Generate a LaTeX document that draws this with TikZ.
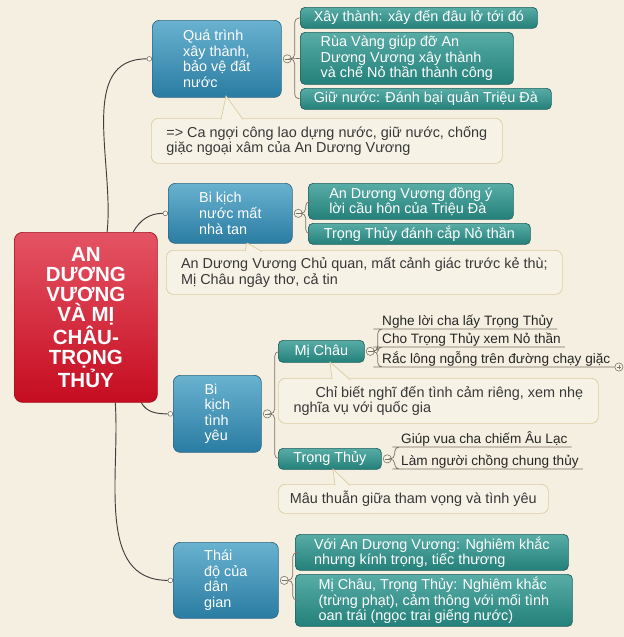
\documentclass[tikz,border=0pt]{standalone}
\usepackage{fontspec}
\setmainfont{Liberation Sans}
\usetikzlibrary{positioning}

\definecolor{paper}{RGB}{244,239,224}
\definecolor{bluetop}{RGB}{105,178,208}
\definecolor{bluebot}{RGB}{42,124,162}
\definecolor{blueline}{RGB}{48,104,132}
\definecolor{tealtop}{RGB}{88,172,166}
\definecolor{tealbot}{RGB}{36,128,122}
\definecolor{tealline}{RGB}{32,96,94}
\definecolor{roottop}{RGB}{228,84,100}
\definecolor{rootbot}{RGB}{198,12,32}
\definecolor{rootline}{RGB}{160,20,32}
\definecolor{notefill}{RGB}{246,242,230}
\definecolor{noteline}{RGB}{220,204,160}
\definecolor{limbc}{RGB}{62,62,62}
\definecolor{bracketc}{RGB}{122,114,102}

\begin{document}
\begin{tikzpicture}[
      x=0.03cm, y=-0.03cm,
      every node/.style={font=\fontsize{12.3}{13.3}\selectfont},
      rootbox/.style={rectangle, rounded corners=7pt, draw=rootline, line width=0.6pt, top color=roottop, bottom color=rootbot, text=white, align=center, anchor=north west, font=\fontsize{17.5}{17}\selectfont\bfseries},
      topic/.style={rectangle, rounded corners=6pt, draw=blueline, line width=0.6pt, top color=bluetop, bottom color=bluebot, text=white, align=left, anchor=north west, inner xsep=3pt, inner ysep=1pt},
      item/.style={rectangle, rounded corners=4pt, draw=tealline, line width=0.6pt, top color=tealtop, bottom color=tealbot, text=white, align=left, anchor=north west, inner xsep=3pt, inner ysep=1pt},
      note/.style={rectangle, rounded corners=6pt, draw=noteline, line width=0.6pt, fill=notefill, text=black!78, align=left, anchor=north west, inner xsep=3pt, inner ysep=1pt},
      leaf/.style={anchor=south west, inner xsep=0.12cm, inner ysep=0.5pt, text depth=2.5pt, text=black!85, font=\fontsize{11.6}{13}\selectfont},
      fold/.style={circle, draw=bracketc, fill=notefill, line width=0.5pt, inner sep=0pt, minimum size=7pt,
        path picture={\draw[bracketc, line width=0.6pt] ([xshift=-2pt]path picture bounding box.center) -- ([xshift=2pt]path picture bounding box.center);}},
      unfold/.style={fold,
        path picture={\draw[bracketc, line width=0.6pt] ([xshift=-2pt]path picture bounding box.center) -- ([xshift=2pt]path picture bounding box.center)
          ([yshift=-2pt]path picture bounding box.center) -- ([yshift=2pt]path picture bounding box.center);}},
      entry/.style={circle, draw=bracketc, fill=white, line width=0.5pt, inner sep=0pt, minimum size=4pt},
      limb/.style={draw=limbc, line width=0.8pt},
      bracket/.style={draw=bracketc, line width=0.6pt, rounded corners=4pt},
      pin/.style={draw=noteline, line width=0.6pt}
      ]

      \fill[paper] (0,0) rectangle (624,637);

      \node (root) at (14,232) [rootbox, minimum width=4.29cm, minimum height=5.10cm] {AN\\ DƯƠNG\\ VƯƠNG\\ VÀ MỊ\\ CHÂU-\\ TRỌNG\\ THỦY};

      % xay thanh
      \node (build) at (152,20) [topic, minimum width=3.87cm, minimum height=2.31cm] {Quá trình\\ xây thành,\\ bảo vệ đất\\ nước};
      \node (buildA) at (300,7) [item, minimum width=7.11cm, minimum height=0.63cm] {Xây thành: xây đến đâu lở tới đó};
      \node (buildB) at (300,32) [item, minimum width=6.39cm, minimum height=1.56cm] {Rùa Vàng giúp đỡ An\\ Dương Vương xây thành\\ và chế Nỏ thần thành công};
      \node (buildC) at (300,88) [item, minimum width=7.53cm, minimum height=0.63cm] {Giữ nước: Đánh bại quân Triệu Đà};
      \node (buildNote) at (151,118) [note, minimum width=10.53cm, minimum height=1.35cm] {=> Ca ngợi công lao dựng nước, giữ nước, chống\\ giặc ngoại xâm của An Dương Vương};

      % mat nuoc
      \node (loss) at (168,183) [topic, minimum width=3.72cm, minimum height=1.80cm] {Bi kịch\\ nước mất\\ nhà tan};
      \node (lossA) at (308,183) [item, minimum width=6.15cm, minimum height=1.08cm] {An Dương Vương đồng ý\\ lời cầu hôn của Triệu Đà};
      \node (lossB) at (308,223) [item, minimum width=6.66cm, minimum height=0.63cm] {Trọng Thủy đánh cắp Nỏ thần};
      \node (lossNote) at (166,250) [note, minimum width=11.88cm, minimum height=1.32cm] {An Dương Vương Chủ quan, mất cảnh giác trước kẻ thù;\\ Mị Châu ngây thơ, cả tin};

      % tinh yeu
      \node (love) at (173,375) [topic, minimum width=2.64cm, minimum height=2.31cm] {Bi\\ kịch\\ tình\\ yêu};
      \node (chau) at (278,340) [item, minimum width=2.58cm, minimum height=0.66cm] {Mị Châu};
      \node (chauNote) at (278,378) [note, minimum width=9.60cm, minimum height=1.35cm] {\hspace*{0.66cm}Chỉ biết nghĩ đến tình cảm riêng, xem nhẹ\\ nghĩa vụ với quốc gia};
      \node (thuy) at (278,448) [item, minimum width=3.09cm, minimum height=0.63cm] {Trọng Thủy};
      \node (thuyNote) at (278,484) [note, minimum width=8.10cm, minimum height=0.87cm] {Mâu thuẫn giữa tham vọng và tình yêu};

      \node (chauA) at (378,329) [leaf] {Nghe lời cha lấy Trọng Thủy};
      \node (chauB) at (378,347) [leaf] {Cho Trọng Thủy xem Nỏ thần};
      \node (chauC) at (378,367) [leaf] {Rắc lông ngỗng trên đường chạy giặc};
      \node (thuyA) at (397,447) [leaf] {Giúp vua cha chiếm Âu Lạc};
      \node (thuyB) at (397,469) [leaf] {Làm người chồng chung thủy};

      % dan gian
      \node (folk) at (173,542) [topic, minimum width=3.15cm, minimum height=2.28cm] {Thái\\ độ của\\ dân\\ gian};
      \node (folkA) at (295,534) [item, minimum width=8.19cm, minimum height=1.08cm] {Với An Dương Vương: Nghiêm khắc\\ nhưng kính trọng, tiếc thương};
      \node (folkB) at (295,574) [item, minimum width=8.31cm, minimum height=1.56cm] {Mị Châu, Trọng Thủy: Nghiêm khắc\\ (trừng phạt), cảm thông với mối tình\\ oan trái (ngọc trai giếng nước)};

      % callout pins
      \fill[notefill] (226,96) -- (221,119.5) -- (243,119.5) -- cycle;
      \draw[pin] (221,119.5) -- (226,96) -- (243,119.5);
      \fill[notefill] (247,243) -- (245,251.5) -- (262,251.5) -- cycle;
      \draw[pin] (245,251.5) -- (247,243) -- (262,251.5);
      \fill[notefill] (330,362) -- (332,379.5) -- (350,379.5) -- cycle;
      \draw[pin] (332,379.5) -- (330,362) -- (350,379.5);
      \fill[notefill] (333,469) -- (335,485.5) -- (350,485.5) -- cycle;
      \draw[pin] (335,485.5) -- (333,469) -- (350,485.5);

      % fold markers and entry dots
      \node (bd) [fold, right=1pt of build] {};
      \node (ld) [fold, right=1pt of loss] {};
      \node (vd) [fold, right=1pt of love] {};
      \node (fd) [fold, right=1pt of folk] {};
      \node (cd) [fold, right=1pt of chau] {};
      \node (td) [fold, right=1pt of thuy] {};
      \node (cx) [unfold, right=0pt of chauC.south east] {};

      \node (bin) [entry, left=0pt of build] {};
      \node (lin) [entry, left=0pt of loss] {};
      \node (vin) [entry, left=0pt of love] {};
      \node (fin) [entry, left=0pt of folk] {};

      \draw[limb] (root.76) to[out=84, in=180] (bin);
      \draw[limb] (root.61) to[out=60, in=180] (lin);
      \draw[limb] (root.-57) to[out=-60, in=180] (vin);
      \draw[limb] (root.-71) to[out=-86, in=180] (fin);

      \draw[bracket] (bd.east) -- ++(3,0) |- (buildA.west);
      \draw[bracket] (bd.east) -- (buildB.west);
      \draw[bracket] (bd.east) -- ++(3,0) |- (buildC.west);

      \draw[bracket] (ld.east) -- ++(3,0) |- (lossA.west);
      \draw[bracket] (ld.east) -- ++(3,0) |- (lossB.west);

      \draw[bracket] (vd.east) -- ++(3,0) |- (chau.west);
      \draw[bracket] (vd.east) -- ++(3,0) |- (thuy.west);

      \draw[bracket] (cd.east) -- ++(3,0) |- (chauA.south west) -- (chauA.south east);
      \draw[bracket] (cd.east) -- ++(3,0) |- (chauB.south west) -- (chauB.south east);
      \draw[bracket] (cd.east) -- ++(3,0) |- (chauC.south west) -- (chauC.south east);

      \draw[bracket] (td.east) -- ++(3,0) |- (thuyA.south west) -- (thuyA.south east);
      \draw[bracket] (td.east) -- ++(3,0) |- (thuyB.south west) -- (thuyB.south east);

      \draw[bracket] (fd.east) -- ++(4,0) |- (folkA.west);
      \draw[bracket] (fd.east) -- ++(4,0) |- (folkB.west);
\end{tikzpicture}
\end{document}
